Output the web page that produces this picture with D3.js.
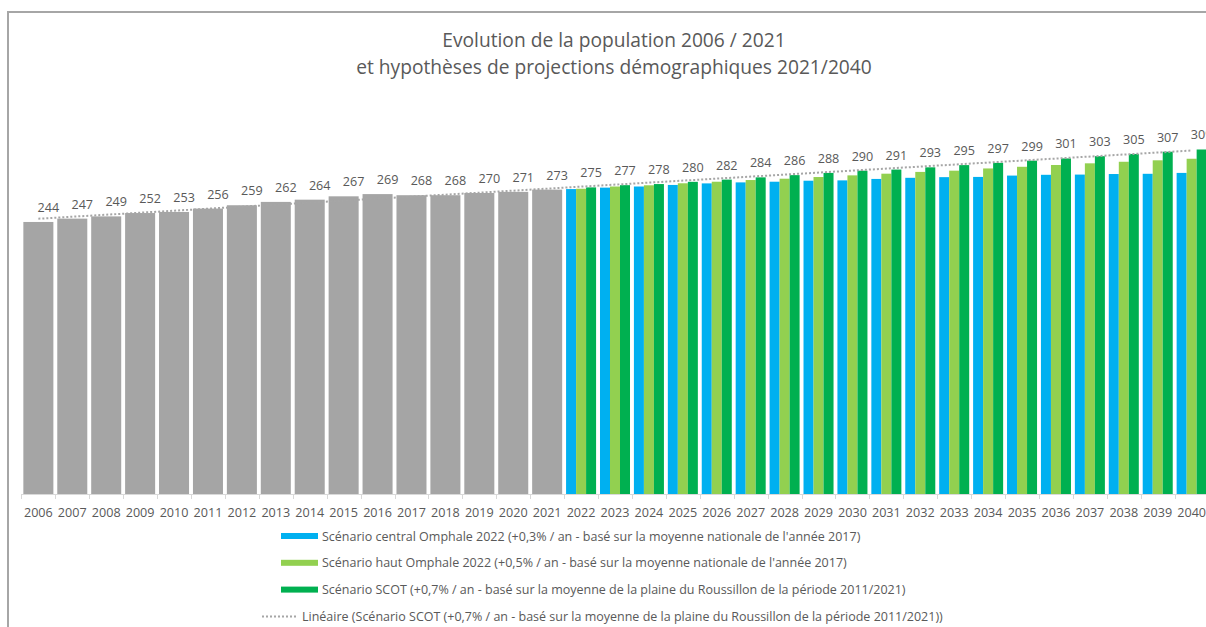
<!DOCTYPE html>
<html>
<head>
<meta charset="utf-8">
<script src="https://cdn.jsdelivr.net/npm/d3@7"></script>
<style>
  body { margin: 0; background: #ffffff; }
  svg { display: block; font-family: 'Open Sans', 'Noto Sans', sans-serif; }
</style>
</head>
<body>
<svg id="chart" width="1206" height="627"></svg>
<script>
// ---------- DATA ----------
const histYears = [2006, 2007, 2008, 2009, 2010, 2011, 2012, 2013, 2014, 2015, 2016, 2017, 2018, 2019, 2020, 2021];
const histValues = [244, 247, 249, 252, 253, 256, 259, 262, 264, 267, 269, 268, 268, 270, 271, 273];

const projYears = [2022, 2023, 2024, 2025, 2026, 2027, 2028, 2029, 2030, 2031, 2032, 2033, 2034, 2035, 2036, 2037, 2038, 2039, 2040];
const centralValues = [273.5, 274.8, 275.8, 277.2, 278.6, 279.5, 280.1, 281.0, 281.3, 282.6, 283.6, 284.2, 284.4, 285.6, 286.3, 286.5, 287.0, 287.2, 288.0];
const hautValues    = [273.8, 275.8, 276.9, 278.7, 280.1, 281.6, 282.8, 284.3, 285.8, 287.3, 288.9, 290.0, 292.0, 293.5, 295.1, 296.6, 298.0, 299.3, 300.7];
const scotValues    = [275, 277, 278, 280, 282, 284, 286, 288, 290, 291, 293, 295, 297, 299, 301, 303, 305, 307, 309];

const titleLines = ["Evolution de la population 2006 / 2021", "et hypothèses de projections démographiques 2021/2040"];
const seriesNames = [
  "Scénario central Omphale 2022 (+0,3% / an - basé sur la moyenne nationale de l'année 2017)",
  "Scénario haut Omphale 2022 (+0,5% / an - basé sur la moyenne nationale de l'année 2017)",
  "Scénario SCOT (+0,7% / an - basé sur la moyenne de la plaine du Roussillon de la période 2011/2021)"
];
const trendName = "Linéaire (Scénario SCOT (+0,7% / an - basé sur la moyenne de la plaine du Roussillon de la période 2011/2021))";

// ---------- STYLE ----------
const histColor = "#a5a5a5";
const seriesColors = ["#00b0f0", "#92d050", "#00b050"];
const textColor = "#595959";
const trendColor = "#a6a6a6";

// ---------- SETUP ----------
const svg = d3.select("#chart");
const allYears = histYears.concat(projYears);
const baseY = 494;

const x = d3.scaleBand()
  .domain(allYears)
  .range([21.4, 1208.6])
  .paddingInner(0.115)
  .paddingOuter(0.0575);

const sub = d3.scaleBand().domain([0, 1, 2]).range([0, x.bandwidth()]).padding(0);

const y = d3.scaleLinear().domain([0, 350]).range([baseY, baseY - 350 * 1.1149]);

// frame
svg.append("path")
  .attr("d", "M8,627 L8,12 L1206,12")
  .attr("fill", "none")
  .attr("stroke", "#a6a6a6")
  .attr("stroke-width", 2);

// title
svg.append("g").selectAll("text").data(titleLines).join("text")
  .attr("x", 614)
  .attr("y", (d, i) => 47 + i * 27)
  .attr("text-anchor", "middle")
  .attr("fill", textColor)
  .attr("font-size", 19.2)
  .text(d => d);

// historical bars
svg.append("g").selectAll("rect").data(histYears).join("rect")
  .attr("x", d => x(d))
  .attr("width", x.bandwidth())
  .attr("y", (d, i) => y(histValues[i]))
  .attr("height", (d, i) => baseY - y(histValues[i]))
  .attr("fill", histColor);

// projection bars
const projSeries = [centralValues, hautValues, scotValues];
projSeries.forEach((vals, s) => {
  svg.append("g").selectAll("rect").data(projYears).join("rect")
    .attr("x", d => x(d) + sub(s))
    .attr("width", sub.bandwidth())
    .attr("y", (d, i) => y(vals[i]))
    .attr("height", (d, i) => baseY - y(vals[i]))
    .attr("fill", seriesColors[s]);
});

// axis line & ticks at category boundaries
const step = x.step();
const x0 = x.range()[0];
svg.append("line")
  .attr("x1", x0).attr("x2", x.range()[1])
  .attr("y1", baseY + 0.5).attr("y2", baseY + 0.5)
  .attr("stroke", "#d9d9d9").attr("stroke-width", 1);
svg.append("g").selectAll("line").data(d3.range(allYears.length + 1)).join("line")
  .attr("x1", i => Math.round(x0 + i * step) + 0.5)
  .attr("x2", i => Math.round(x0 + i * step) + 0.5)
  .attr("y1", baseY).attr("y2", baseY + 5)
  .attr("stroke", "#d9d9d9").attr("stroke-width", 1);

// x labels
const xAxis = d3.axisBottom(x).tickSize(0).tickPadding(0);
const gx = svg.append("g").attr("transform", `translate(0,${baseY})`).call(xAxis);
gx.select(".domain").remove();
gx.selectAll("text")
  .attr("y", 23)
  .attr("dy", null)
  .attr("fill", textColor)
  .attr("font-size", 12.6)
  .attr("font-family", "'Open Sans', sans-serif");

// trendline (linear regression on the SCOT series incl. history)
const scotAll = histValues.concat(scotValues);
const n = scotAll.length;
const xs = d3.range(n);
const mx = d3.mean(xs), my = d3.mean(scotAll);
const slope = d3.sum(xs, (xi, i) => (xi - mx) * (scotAll[i] - my)) / d3.sum(xs, xi => (xi - mx) * (xi - mx));
const intercept = my - slope * mx;
const cx = yr => x(yr) + x.bandwidth() / 2;
svg.append("line")
  .attr("x1", cx(allYears[0]))
  .attr("y1", y(intercept))
  .attr("x2", cx(allYears[n - 1]))
  .attr("y2", y(intercept + slope * (n - 1)))
  .attr("stroke", trendColor)
  .attr("stroke-width", 2)
  .attr("stroke-dasharray", "2,2");

// data labels (on the SCOT slot)
svg.append("g").selectAll("text").data(allYears).join("text")
  .attr("x", d => x(d) + sub(2) + sub.bandwidth() / 2)
  .attr("y", (d, i) => y(scotAll[i]) - 10)
  .attr("text-anchor", "middle")
  .attr("fill", textColor)
  .attr("font-size", 12.6)
  .text((d, i) => d3.format("d")(scotAll[i]));

// legend
const legendRows = [
  { name: seriesNames[0], type: "bar", color: seriesColors[0] },
  { name: seriesNames[1], type: "bar", color: seriesColors[1] },
  { name: seriesNames[2], type: "bar", color: seriesColors[2] },
  { name: trendName, type: "line", color: trendColor }
];
const lg = svg.append("g");
legendRows.forEach((r, i) => {
  const cy = 536 + i * 26.8;
  const sx = r.type === "bar" ? 281 : 262;
  if (r.type === "bar") {
    lg.append("rect").attr("x", sx).attr("y", cy - 3).attr("width", 37).attr("height", 6).attr("fill", r.color);
  } else {
    lg.append("line").attr("x1", sx).attr("x2", sx + 34).attr("y1", cy).attr("y2", cy)
      .attr("stroke", r.color).attr("stroke-width", 2).attr("stroke-dasharray", "2,2");
  }
  lg.append("text")
    .attr("x", r.type === "bar" ? 322 : 302)
    .attr("y", cy + 4.5)
    .attr("fill", textColor)
    .attr("font-size", 12.5)
    .text(r.name);
});
</script>
</body>
</html>
